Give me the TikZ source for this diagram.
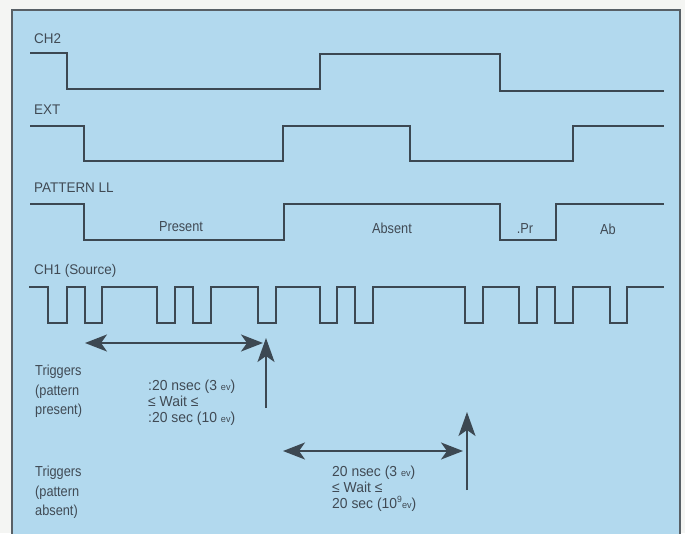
\documentclass[tikz,border=0pt]{standalone}
\usepackage{fontspec}
\setmainfont[FakeStretch=0.88]{Liberation Sans}
\newfontfamily\widesans[FakeStretch=0.96]{Liberation Sans}
\usetikzlibrary{arrows.meta, positioning}
\definecolor{panelbg}{RGB}{178, 217, 238}
\definecolor{paper}{RGB}{244, 245, 243}
\definecolor{trace}{RGB}{60, 72, 82}
\definecolor{inktext}{RGB}{64, 74, 84}
\definecolor{rim}{RGB}{88, 96, 102}
\newcommand{\evunit}{{\fontsize{9.5}{10}\selectfont ev}}

\begin{document}
\begin{tikzpicture}[
          x=1pt, y=-1pt,
          wave/.style={draw=trace, line width=1.8pt, line join=miter},
          siglabel/.style={anchor=west, inner sep=0pt, text=inktext,
                           font=\widesans\fontsize{14}{14}\selectfont},
          phase/.style={inner sep=0pt, text=inktext, font=\fontsize{14.5}{15}\selectfont},
          note/.style={anchor=north west, inner sep=0pt, align=left, text=inktext,
                       font=\fontsize{14.5}{19.5}\selectfont},
          waitnote/.style={note, font=\widesans\fontsize{14.5}{16}\selectfont},
          span/.style={draw=trace, line width=2pt,
                       {Stealth[length=22pt, width=17pt, inset=6pt]}-{Stealth[length=22pt, width=17pt, inset=6pt]}},
          trig/.style={draw=trace, line width=2pt, -{Stealth[length=24pt, width=17pt, inset=6pt]}},
        ]
        \useasboundingbox (0,0) rectangle (685,533);
        \fill[paper] (0,0) rectangle (685,533);
        \fill[panelbg] (12,10) rectangle (680,545);
        \draw[rim, line width=2.2pt] (12,545) -- (12,10) -- (680,10) -- (680,545);

        % signal names
        \node[siglabel] (ch2lbl) at (34,39)  {CH2};
        \node[siglabel] (extlbl) at (34,110) {EXT};
        \node[siglabel] (patlbl) at (34,188) {PATTERN LL};
        \node[siglabel] (ch1lbl) at (34,271) {CH1 (Source)};

        % traces
        \draw[wave] (30,53) -| (67,89) -| (320,54) -| (500,91) -- (664,91);
        \draw[wave] (30,126) -| (84,161) -| (283,126) -| (410,161) -| (573,126) -- (664,126);
        \draw[wave] (30,204) -| (84,240) -| (284,204) -| (500,240) -| (556,204) -- (664,204);
        \draw[wave] (29,287)
          foreach \fall/\rise in {48/67, 85/102, 157/175, 193/211, 258/276, 320/337,
                                  355/373, 465/483, 519/537, 555/573, 610/627}
          { -| (\fall,323) -| (\rise,287) } -- (664,287);

        \node[phase] (present) at (181,227) {Present};
        \node[phase] (absent)  at (392,228) {Absent};
        \node[phase] (pr)      at (525,229) {.Pr};
        \node[phase] (ab)      at (608,229) {Ab};

        % trigger, pattern present
        \coordinate (gap1L) at (85,343);
        \coordinate (gap1R) at (263,343);
        \coordinate (trig1B) at (266,408);
        \coordinate (trig1T) at (266,338);
        \draw[span] (gap1L) -- (gap1R);
        \draw[trig] (trig1B) -- (trig1T);
        \node[note] (trigP) at (35,365) {Triggers\\(pattern\\present)};
        \node[waitnote] (waitP) at (148,380) {:20 nsec (3 \evunit)\\≤ Wait ≤\\:20 sec (10 \evunit)};

        % trigger, pattern absent
        \coordinate (gap2L) at (283,451);
        \coordinate (gap2R) at (463,451);
        \coordinate (trig2B) at (467,490);
        \coordinate (trig2T) at (467,412);
        \draw[span] (gap2L) -- (gap2R);
        \draw[trig] (trig2B) -- (trig2T);
        \node[note] (trigA) at (35,466) {Triggers\\(pattern\\absent)};
        \node[waitnote] (waitA) at (332,466) {20 nsec (3 \evunit)\\≤ Wait ≤\\20 sec (10\raisebox{6pt}{\fontsize{9}{9}\selectfont 9}\evunit)};
      \end{tikzpicture}
\end{document}
